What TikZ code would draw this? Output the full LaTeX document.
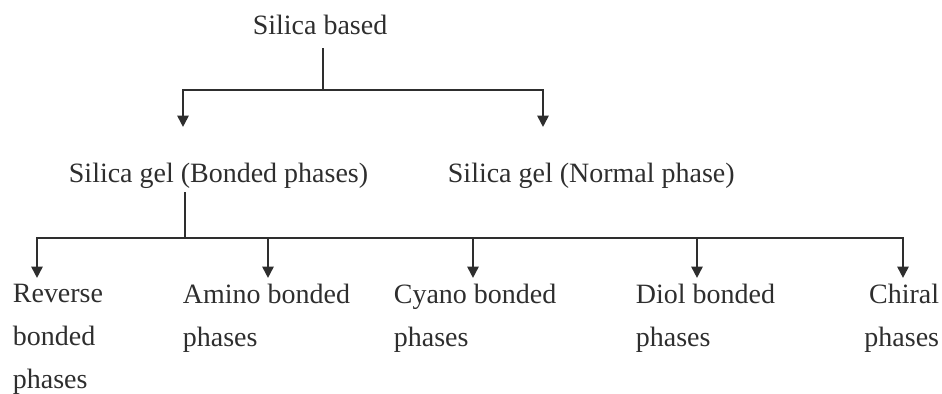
\documentclass[tikz,border=0pt]{standalone}
\usepackage{fontspec}
\setmainfont{Liberation Serif}
\usetikzlibrary{arrows.meta}
\definecolor{inkGray}{HTML}{2E2E2E}

\begin{document}
\begin{tikzpicture}[x=0.025cm, y=-0.025cm, line width=1.3pt, draw=inkGray, text=inkGray,
    every node/.style={inner sep=0pt, font=\fontsize{19.9}{30.6}\selectfont},
    leaf/.style={anchor=north west, align=left},
    arr/.style={-{Triangle[width=8pt,length=8pt]}}]
    \useasboundingbox (0,0) rectangle (942,394);
    \node[anchor=base] (silica) at (320,35) {Silica based};
    \node[anchor=base west] (bonded) at (68,183) {Silica gel (Bonded phases)};
    \node[anchor=base west] (normal) at (447,183) {Silica gel (Normal phase)};
    \node[leaf] (rev) at (12,283) {Reverse\\bonded\\phases};
    \node[leaf] (amino) at (182,283) {Amino bonded\\phases};
    \node[leaf] (cyano) at (393,283) {Cyano bonded\\phases};
    \node[leaf] (diol) at (635,283) {Diol bonded\\phases};
    \node[anchor=north east, align=right] (chiral) at (940,283) {Chiral\\phases};
    % first split
    \coordinate (top) at (323,90);
    \coordinate (j1) at (183,90);
    \coordinate (j2) at (543,90);
    \draw[shorten <=8.5pt] (silica.south -| top) -- (top);
    \draw[arr, shorten >=25.4pt] (top) -| (j1 |- bonded.north);
    \draw[arr, shorten >=25.4pt] (top) -| (j2 |- normal.north);
    % second split
    \coordinate (mid) at (185,238);
    \coordinate (k1) at (37,238);
    \coordinate (k2) at (268,238);
    \coordinate (k3) at (473,238);
    \coordinate (k4) at (697,238);
    \coordinate (k5) at (903,238);
    \draw[shorten <=1.5pt] (bonded.south -| mid) -- (mid);
    \foreach \k/\nm in {k1/rev, k2/amino, k3/cyano, k4/diol, k5/chiral} {
      \draw[arr, shorten >=3.6pt] (mid) -| (\k |- \nm.north);
    }
\end{tikzpicture}
\end{document}
